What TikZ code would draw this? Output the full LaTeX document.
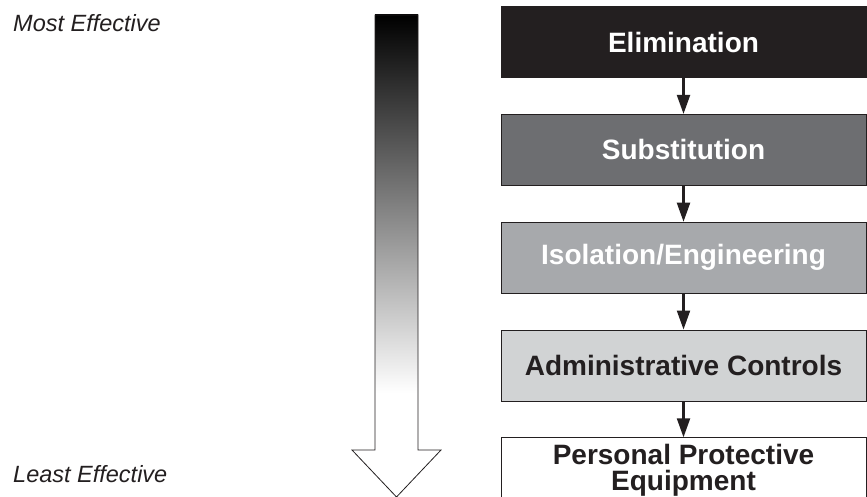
\documentclass[tikz,border=0pt]{standalone}
\usepackage{fontspec}
\setmainfont{Liberation Sans}
\usetikzlibrary{positioning,arrows.meta}

\definecolor{darkbox}{HTML}{231F20}
\definecolor{midbox}{HTML}{6D6E71}
\definecolor{lightbox}{HTML}{A7A9AC}
\definecolor{palebox}{HTML}{D1D3D4}

\tikzstyle{level} = [draw=darkbox, thick, rectangle, minimum width=365pt, minimum height=71pt, inner sep=0pt, font=\fontsize{28}{26}\selectfont\bfseries, align=center]
\tikzstyle{effect} = [anchor=base west, inner sep=0pt, text=darkbox, font=\fontsize{23.5}{23.5}\selectfont\itshape]
\tikzstyle{step arrow} = [draw=darkbox, line width=2.2pt, -{Triangle[width=13pt,length=19pt]}]

\begin{document}
\begin{tikzpicture}[x=1pt,y=-1pt]
	\clip (0,0) rectangle (867,497);

	% gradient arrow
	\fill[white] (375,15) -- (418,15) -- (418,450) -- (441,450) -- (396.5,497) -- (352,450) -- (375,450) -- cycle;
	\shade[top color=black, bottom color=white] (375,15) rectangle (418,393);
	\draw[darkbox, line width=0.8pt] (375,15) -- (418,15) -- (418,450) -- (441,450) -- (396.5,497) -- (352,450) -- (375,450) -- cycle;

	\node[effect] (most) at (13,32) {Most Effective};
	\node[effect] (least) at (13,482) {Least Effective};

	\node[level, fill=darkbox, text=white] (elim) at (683.5,42) {Elimination};
	\node[level, fill=midbox, text=white, below=36pt of elim] (subst) {Substitution};
	\node[level, fill=lightbox, text=white, below=36pt of subst] (iso) {Isolation/Engineering};
	\node[level, fill=palebox, text=darkbox, below=36pt of iso] (admin) {Administrative Controls};
	\node[level, fill=white, text=darkbox, text depth=12pt, below=36pt of admin] (ppe) {Personal Protective\\ Equipment};

	\draw[step arrow] (elim) -- (subst);
	\draw[step arrow] (subst) -- (iso);
	\draw[step arrow] (iso) -- (admin);
	\draw[step arrow] (admin) -- (ppe);
\end{tikzpicture}
\end{document}
